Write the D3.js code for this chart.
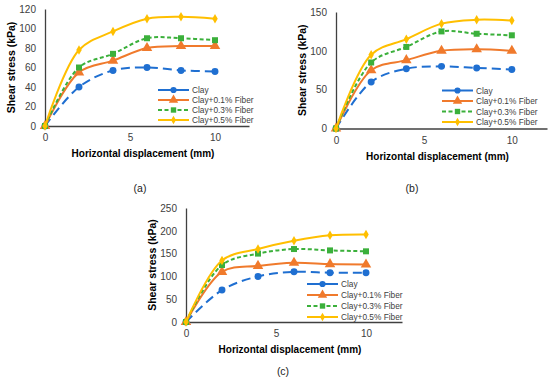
<!DOCTYPE html>
<html lang="en">
<head>
<meta charset="utf-8">
<title>Shear stress vs horizontal displacement</title>
<script src="https://cdn.jsdelivr.net/npm/d3@7"></script>
<style>
  body { margin: 0; background: #fff; }
  text { font-family: "Liberation Sans", Arial, sans-serif; }
</style>
</head>
<body>
<script>
// displacement steps (mm)
var xVals = [0, 2, 4, 6, 8, 10];
var seriesNames = ["Clay", "Clay+0.1% Fiber", "Clay+0.3% Fiber", "Clay+0.5% Fiber"];

// (a)
var clayA    = [0, 40, 57, 60, 57, 56];
var fiber1A  = [0, 55, 67, 80, 82, 82];
var fiber3A  = [0, 60, 74, 90, 90, 88];
var fiber5A  = [0, 78, 97, 110, 112, 110];
// (b)
var clayB    = [0, 60, 77, 80, 78, 76];
var fiber1B  = [0, 75, 88, 100, 102, 100];
var fiber3B  = [0, 85, 105, 125, 122, 120];
var fiber5B  = [0, 95, 115, 135, 140, 139];
// (c)
var clayC    = [0, 70, 100, 110, 108, 108];
var fiber1C  = [0, 110, 123, 130, 127, 126];
var fiber3C  = [0, 125, 150, 160, 157, 155];
var fiber5C  = [0, 135, 160, 178, 190, 192];

var yTicksA = [0, 20, 40, 60, 80, 100, 120];
var yTicksB = [0, 50, 100, 150];
var yTicksC = [0, 50, 100, 150, 200, 250];
var xTicks = [0, 5, 10];

var colors = ["#1f6fd1", "#f07a2c", "#3bb03b", "#ffbf00"];
var dashes = ["9,5", null, "4,2.5", null];
var markers = [d3.symbolCircle, d3.symbolTriangle, d3.symbolSquare, d3.symbolDiamond];
var markerSize = [38, 48, 36, 26];

var width = 550, height = 379;
var svg = d3.select("body").append("svg")
  .attr("width", width).attr("height", height);

// panel boxes: left/right of x range, bottom/top of y range, legend spot, caption
var panels = [
  { data: [clayA, fiber1A, fiber3A, fiber5A], yMax: 120, yTicks: yTicksA,
    x0: 45, x1: 249, y0: 126, y1: 9, legX: 158, legY: 90, legStep: 10, cap: "(a)", capX: 140, capY: 192 },
  { data: [clayB, fiber1B, fiber3B, fiber5B], yMax: 150, yTicks: yTicksB,
    x0: 336, x1: 547, y0: 128.5, y1: 12, legX: 442, legY: 90.5, legStep: 10.5, cap: "(b)", capX: 412, capY: 192 },
  { data: [clayC, fiber1C, fiber3C, fiber5C], yMax: 250, yTicks: yTicksC,
    x0: 186, x1: 402, y0: 322, y1: 208, legX: 307, legY: 284, legStep: 11, cap: "(c)", capX: 283, capY: 375 }
];

panels.forEach(function(p) {
  var x = d3.scaleLinear().domain([0, 12]).range([p.x0, p.x1]);
  var y = d3.scaleLinear().domain([0, p.yMax]).range([p.y0, p.y1]);
  var g = svg.append("g");

  var xAxis = g.append("g").attr("transform", "translate(0," + p.y0 + ")")
    .call(d3.axisBottom(x).tickValues(xTicks).tickSize(0).tickPadding(8));
  var yAxis = g.append("g").attr("transform", "translate(" + p.x0 + ",0)")
    .call(d3.axisLeft(y).tickValues(p.yTicks).tickSize(0).tickPadding(9));
  [xAxis, yAxis].forEach(function(a) {
    a.select(".domain").attr("stroke", "#404040").attr("stroke-width", 1.3);
    a.selectAll("text").attr("font-size", 10).attr("fill", "#404040");
  });

  g.append("text")
    .attr("x", (p.x0 + p.x1) / 2 - 4).attr("y", p.y0 + 31)
    .attr("text-anchor", "middle").attr("font-size", 10).attr("font-weight", "bold")
    .text("Horizontal displacement (mm)");
  g.append("text")
    .attr("transform", "translate(" + (p.x0 - 30) + "," + ((p.y0 + p.y1) / 2) + ") rotate(-90)")
    .attr("text-anchor", "middle").attr("font-size", 10.5).attr("font-weight", "bold")
    .text("Shear stress (kPa)");

  var line = d3.line()
    .x(function(d, i) { return x(xVals[i]); })
    .y(function(d) { return y(d); })
    .curve(d3.curveCatmullRom.alpha(0.5));

  p.data.forEach(function(vals, s) {
    g.append("path").datum(vals)
      .attr("d", line)
      .attr("fill", "none")
      .attr("stroke", colors[s])
      .attr("stroke-width", 2)
      .attr("stroke-dasharray", dashes[s]);
    g.selectAll(".m" + s).data(vals).enter().append("path")
      .attr("transform", function(d, i) { return "translate(" + x(xVals[i]) + "," + y(d) + ")"; })
      .attr("d", d3.symbol().type(markers[s]).size(markerSize[s]))
      .attr("fill", colors[s]);
  });

  // legend
  seriesNames.forEach(function(name, s) {
    var ly = p.legY + s * p.legStep;
    g.append("line")
      .attr("x1", p.legX).attr("x2", p.legX + 31).attr("y1", ly).attr("y2", ly)
      .attr("stroke", colors[s]).attr("stroke-width", 2)
      .attr("stroke-dasharray", s == 2 ? "4,2.5" : null);
    g.append("path")
      .attr("transform", "translate(" + (p.legX + 15.5) + "," + ly + ")")
      .attr("d", d3.symbol().type(markers[s]).size(markerSize[s] * 0.8))
      .attr("fill", colors[s]);
    g.append("text")
      .attr("x", p.legX + 34).attr("y", ly + 3.2)
      .attr("font-size", 8.3).attr("fill", "#404040")
      .text(name);
  });

  svg.append("text")
    .attr("x", p.capX).attr("y", p.capY)
    .attr("text-anchor", "middle").attr("font-size", 10.5).attr("fill", "#222")
    .text(p.cap);
});
</script>
</body>
</html>
